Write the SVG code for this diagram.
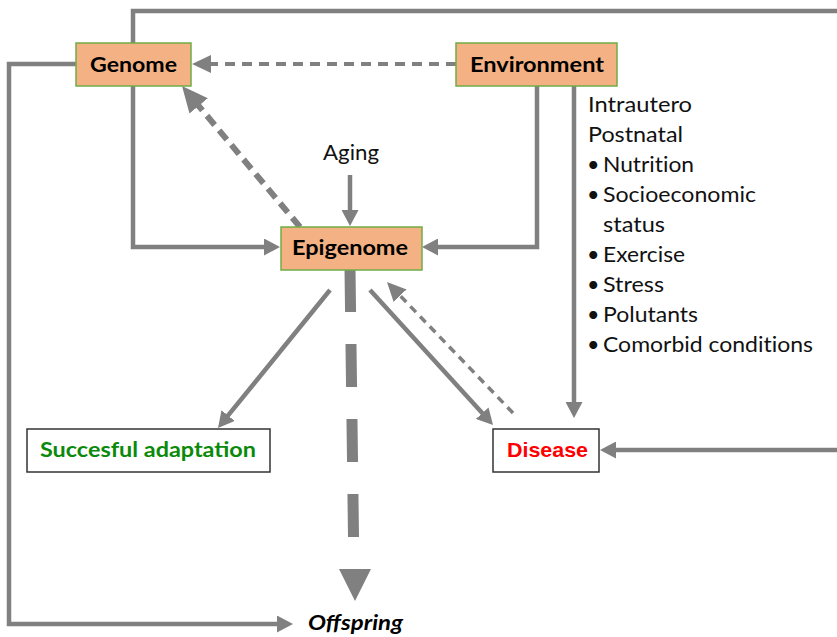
<svg xmlns="http://www.w3.org/2000/svg" width="837" height="637" viewBox="0 0 837 637">
<style>
.ln{fill:none;stroke:#808080;stroke-width:4.5}
.d1{stroke-dasharray:10 7;stroke-width:4}
.d2{stroke-dasharray:12 7;stroke-width:6}
.d3{stroke-dasharray:8 6;stroke-width:3.5}
.d4{stroke-dasharray:43 32;stroke-width:11}
.box{fill:#F4B183;stroke:#70AD47;stroke-width:1.5}
.wbox{fill:#fff;stroke:#333;stroke-width:1.5}
.lb{font-family:Lato,"Open Sans",sans-serif;font-weight:bold;font-size:21px;fill:#000}
.tx{font-family:Lato,"Open Sans",sans-serif;font-size:21.5px;fill:#111;font-variant-ligatures:none}
</style>
<defs>
<marker id="a" markerUnits="userSpaceOnUse" markerWidth="16" markerHeight="17" refX="6" refY="8.5" orient="auto"><path d="M0,0 L16,8.5 L0,17 Z" fill="#808080"/></marker>
<marker id="am" markerUnits="userSpaceOnUse" markerWidth="19" markerHeight="18" refX="9" refY="9" orient="auto"><path d="M0,0 L19,9 L0,18 Z" fill="#808080"/></marker>
<marker id="ab" markerUnits="userSpaceOnUse" markerWidth="26" markerHeight="24" refX="12" refY="12" orient="auto"><path d="M0,0 L26,12 L0,24 Z" fill="#808080"/></marker>
</defs>
<g id="connectors">
<path class="ln" d="M133,43 V11 H837"/>
<path class="ln" d="M76,64 H9 V624 H283" marker-end="url(#a)"/>
<path class="ln" d="M133,86 V247 H270" marker-end="url(#a)"/>
<path class="ln d1" d="M456,64 H202" marker-end="url(#am)"/>
<path class="ln" d="M537,86 V247 H432" marker-end="url(#a)"/>
<path class="ln" d="M574,86 V408" marker-end="url(#a)"/>
<path class="ln" d="M837,450 H610" marker-end="url(#a)"/>
<path class="ln" d="M350,175 V216" marker-end="url(#a)"/>
<path class="ln d2" d="M300,227 L191,96.7" marker-end="url(#ab)"/>
<path class="ln" d="M330,290 L224.3,420.2" marker-end="url(#a)"/>
<path class="ln" d="M370,290 L486.3,417.6" marker-end="url(#a)"/>
<path class="ln d3" d="M513,413 L393.9,289.2" marker-end="url(#am)"/>
<path class="ln d4" d="M350,269 L353.5,537"/>
<polygon points="339,569 371,569 355,601" fill="#808080"/>
</g>
<g id="genome"><rect class="box" x="76" y="43" width="115" height="43"/><text class="lb" x="90" y="72" textLength="87" lengthAdjust="spacingAndGlyphs">Genome</text></g>
<g id="environment"><rect class="box" x="456" y="43" width="161" height="43"/><text class="lb" x="470" y="72" textLength="134" lengthAdjust="spacingAndGlyphs">Environment</text></g>
<g id="epigenome"><rect class="box" x="281" y="227" width="141" height="43"/><text class="lb" x="292" y="255" textLength="116" lengthAdjust="spacingAndGlyphs">Epigenome</text></g>
<g id="adaptation"><rect class="wbox" x="27" y="429" width="243" height="43"/><text class="lb" x="40" y="457" textLength="216" lengthAdjust="spacingAndGlyphs" style="fill:#0A8A0A">Succesful adaptation</text></g>
<g id="disease"><rect class="wbox" x="493" y="429" width="106" height="43"/><text x="507" y="457" textLength="81" lengthAdjust="spacingAndGlyphs" style="font-family:'Liberation Sans',Arial,sans-serif;font-weight:bold;font-size:21px;fill:#FF0000">Disease</text></g>
<g id="offspring"><text class="lb" x="308" y="630" textLength="95" lengthAdjust="spacingAndGlyphs" style="font-style:italic">Offspring</text></g>
<g id="aging"><text class="tx" x="323" y="160" textLength="56" lengthAdjust="spacingAndGlyphs">Aging</text></g>
<g id="factors">
<text class="tx" x="588" y="112" textLength="104" lengthAdjust="spacingAndGlyphs">Intrautero</text>
<text class="tx" x="588" y="142" textLength="95" lengthAdjust="spacingAndGlyphs">Postnatal</text>
<text class="tx" x="587" y="172">•</text><text class="tx" x="603" y="172" textLength="91" lengthAdjust="spacingAndGlyphs">Nutrition</text>
<text class="tx" x="587" y="202">•</text><text class="tx" x="603" y="202" textLength="153" lengthAdjust="spacingAndGlyphs">Socioeconomic</text>
<text class="tx" x="603" y="232" textLength="62" lengthAdjust="spacingAndGlyphs">status</text>
<text class="tx" x="587" y="262">•</text><text class="tx" x="603" y="262" textLength="82" lengthAdjust="spacingAndGlyphs">Exercise</text>
<text class="tx" x="587" y="292">•</text><text class="tx" x="603" y="292" textLength="61" lengthAdjust="spacingAndGlyphs">Stress</text>
<text class="tx" x="587" y="322">•</text><text class="tx" x="603" y="322" textLength="95" lengthAdjust="spacingAndGlyphs">Polutants</text>
<text class="tx" x="587" y="352">•</text><text class="tx" x="603" y="352" textLength="210" lengthAdjust="spacingAndGlyphs">Comorbid conditions</text>
</g>
</svg>
